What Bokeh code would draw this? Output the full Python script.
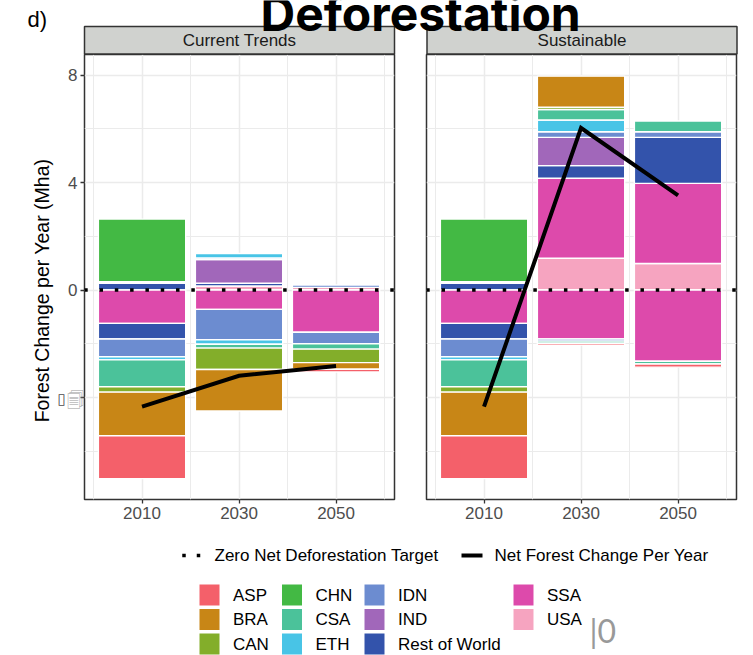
from math import pi
from bokeh.plotting import figure
from bokeh.models import Range1d, FixedTicker
from bokeh.core.properties import value
from bokeh.embed import file_html
from bokeh.resources import INLINE

regions = ["ASP", "BRA", "CAN", "CHN", "CSA", "ETH", "IDN", "IND", "Rest of World", "SSA", "USA"]
colors = ["#F4606A", "#C88616", "#83AE2A", "#43B944", "#4BC29A", "#48C4E6",
          "#6C8CD0", "#A167BA", "#3353AB", "#DD4AAB", "#F6A4C0"]
years = [2010, 2030, 2050]
panels = ["Current Trends", "Sustainable"]

# values per region, same order as `regions`
current_2010_pos = [0, 0, 0, 2.33, 0, 0, 0.06, 0, 0.25, 0, 0]
current_2010_neg = [-1.60, -1.62, -0.20, 0, -1.00, -0.12, -0.66, 0, -0.58, -1.24, 0]
current_2030_pos = [0, 0, 0, 0, 0, 0.17, 0.06, 0.88, 0.10, 0, 0.15]
current_2030_neg = [0, -1.54, -0.80, 0, -0.14, -0.17, -1.13, 0, 0, -0.72, 0]
current_2050_pos = [0, 0, 0, 0, 0, 0, 0.09, 0, 0, 0, 0.10]
current_2050_neg = [-0.10, -0.25, -0.50, 0, -0.20, 0, -0.43, 0, 0, -1.57, 0]

sustain_2010_pos = [0, 0, 0, 2.33, 0, 0, 0.06, 0, 0.25, 0, 0]
sustain_2010_neg = [-1.60, -1.62, -0.20, 0, -1.00, -0.12, -0.66, 0, -0.58, -1.24, 0]
sustain_2030_pos = [0, 1.16, 0.08, 0, 0.39, 0.44, 0.21, 1.05, 0.47, 2.98, 1.18]
sustain_2030_neg = [-0.07, 0, 0, 0, -0.08, 0, -0.08, 0, 0, -1.82, 0]
sustain_2050_pos = [0, 0, 0, 0, 0.40, 0, 0.21, 0, 1.71, 2.98, 0.99]
sustain_2050_neg = [-0.12, 0, 0, 0, -0.10, 0, 0, 0, 0, -2.65, 0]

net_current = [-4.34, -3.19, -2.83]
net_sustain = [-4.34, 6.03, 3.52]
zero_target = 0

y_major = [-4, 0, 4, 8]
y_minor = [-6, -2, 2, 6]
x_minor = [2000, 2020, 2040, 2060]
y_labels = {-4: "", 0: "0", 4: "4", 8: "8"}

FONT = "Liberation Sans"
FRAME_W, FRAME_H = 310, 445
X0, X1 = 1998.14, 2062.05
DOT_STEP = 3.155  # years between dots of the dotted target line


def panel(left_px, pos, neg, net, with_y):
    p = figure(frame_width=FRAME_W, frame_height=FRAME_H, output_backend="svg", toolbar_location=None,
               x_range=Range1d(X0, X1), y_range=Range1d(-7.795, 8.765),
               min_border_top=54, min_border_bottom=36,
               min_border_left=84 if with_y else 1, min_border_right=3,
               y_axis_location="left" if with_y else None,
               background_fill_color="white", border_fill_color=None)
    p.styles = {"position": "absolute", "left": f"{left_px}px", "top": "0px"}
    p.outline_line_color = "#333333"
    p.outline_line_width = 1.5

    p.xaxis.ticker = FixedTicker(ticks=years, minor_ticks=x_minor)
    p.xaxis.axis_line_color = None
    p.xaxis.major_tick_line_color = "#333333"
    p.xaxis.major_tick_line_width = 1.3
    p.xaxis.major_tick_out = 4
    p.xaxis.major_tick_in = 0
    p.xaxis.minor_tick_line_color = None
    p.xaxis.major_label_text_font = FONT
    p.xaxis.major_label_text_font_size = "17px"
    p.xaxis.major_label_text_color = "#4D4D4D"
    p.xaxis.major_label_standoff = 3
    p.xgrid.ticker = FixedTicker(ticks=years, minor_ticks=x_minor)
    if with_y:
        p.yaxis.ticker = FixedTicker(ticks=y_major, minor_ticks=y_minor)
        p.yaxis.major_label_overrides = y_labels
        p.yaxis.axis_line_color = None
        p.yaxis.major_tick_line_color = "#333333"
        p.yaxis.major_tick_line_width = 1.3
        p.yaxis.major_tick_out = 4
        p.yaxis.major_tick_in = 0
        p.yaxis.minor_tick_line_color = None
        p.yaxis.major_label_text_font = FONT
        p.yaxis.major_label_text_font_size = "17px"
        p.yaxis.major_label_text_color = "#4D4D4D"
        p.yaxis.major_label_standoff = 3
    p.ygrid.ticker = FixedTicker(ticks=y_major, minor_ticks=y_minor)
    for g in (p.xgrid, p.ygrid):
        g.grid_line_color = "#EBEBEB"
        g.grid_line_width = 1.5
        g.minor_grid_line_color = "#EBEBEB"
        g.minor_grid_line_width = 1

    for year, pv, nv in zip(years, pos, neg):
        for vals in (pv, nv):
            base = 0.0
            # the last region in the list sits nearest to zero
            for i in range(len(regions) - 1, -1, -1):
                v = vals[i]
                if v == 0:
                    continue
                p.vbar(x=[year], width=18, bottom=[base], top=[base + v],
                       fill_color=colors[i], line_color="white", line_width=1.4)
                base += v

    n_dots = int((X1 - X0) / DOT_STEP) + 1
    dots = [X0 + 0.3 + k * DOT_STEP for k in range(n_dots)]
    p.scatter(x=dots, y=[zero_target] * n_dots, marker="square", size=3.5, fill_color="black", line_color=None)
    p.line(x=years, y=net, line_color="black", line_width=4, line_join="miter")
    return p


left = panel(0, [current_2010_pos, current_2030_pos, current_2050_pos],
             [current_2010_neg, current_2030_neg, current_2050_neg], net_current, True)
right = panel(425, [sustain_2010_pos, sustain_2030_pos, sustain_2050_pos],
              [sustain_2010_neg, sustain_2030_neg, sustain_2050_neg], net_sustain, False)

# full-page layer in page pixels: strips, panel letter, title, legends
o = figure(width=753, height=655, output_backend="svg", toolbar_location=None,
           x_range=Range1d(0, 753), y_range=Range1d(655, 0),
           x_axis_location=None, y_axis_location=None,
           min_border=0, background_fill_color=None, border_fill_color=None, outline_line_color=None)
o.styles = {"position": "absolute", "left": "0px", "top": "0px"}
o.grid.visible = False

for name, x0 in zip(panels, (84, 426.5)):
    o.quad(left=[x0], right=[x0 + FRAME_W], top=[26], bottom=[53.5],
           fill_color="#D0D2CF", line_color="#333333", line_width=1.5)
    o.text(x=[x0 + FRAME_W / 2], y=[40], text=[name], text_align="center", text_baseline="middle",
           text_font=value(FONT), text_font_size="17px", text_color="#1A1A1A")

o.text(x=[41], y=[290], text=["Forest Change per Year (Mha)"], angle=pi / 2, text_align="center",
       text_baseline="middle", text_font=value(FONT), text_font_size="19.5px", text_color="black")
o.text(x=[27], y=[19], text=["d)"], text_baseline="middle", text_font=value(FONT),
       text_font_size="22px", text_color="black")
o.text(x=[260], y=[13], text=["Deforestation"], text_baseline="alphabetic", text_font=value("Inter"),
       text_font_size="48px", text_font_style="bold", text_color="black")

# the garbled -4 tick label of the reference
o.text(x=[57], y=[398], text=["\u25AF"], text_baseline="middle", text_font=value("DejaVu Sans"),
       text_font_size="15px", text_color="#4D4D4D")
o.text(x=[66], y=[399], text=["\U0001F5D0"], text_baseline="middle", text_font=value("DejaVu Sans"),
       text_font_size="17px", text_color="#999999")

# line legend
o.scatter(x=[183.5, 198], y=[555, 555], marker="square", size=3.5, fill_color="black", line_color=None)
o.line(x=[461, 482], y=[555, 555], line_color="black", line_width=4)
o.text(x=[214], y=[554.5], text=["Zero Net Deforestation Target"], text_baseline="middle",
       text_font=value(FONT), text_font_size="17px", text_color="black")
o.text(x=[494], y=[554.5], text=["Net Forest Change Per Year"], text_baseline="middle",
       text_font=value(FONT), text_font_size="17px", text_color="black")

# fill legend: three rows per column
col_x = [199, 281.5, 364, 513]
row_y = [594.5, 619, 643.5]
for i, (name, col) in enumerate(zip(regions, colors)):
    cx = col_x[i // 3]
    cy = row_y[i % 3]
    o.quad(left=[cx], right=[cx + 20], top=[cy - 10.5], bottom=[cy + 10.5],
           fill_color=col, line_color=None)
    o.text(x=[cx + 33.5], y=[cy], text=[name], text_baseline="middle", text_font=value(FONT),
           text_font_size="17px", text_color="black")

o.text(x=[589], y=[630], text=["|0"], text_baseline="middle", text_font=value("Lato"),
       text_font_size="32px", text_color="#999999")

html = file_html([left, right, o], INLINE)
open("out.html", "w").write(html)
